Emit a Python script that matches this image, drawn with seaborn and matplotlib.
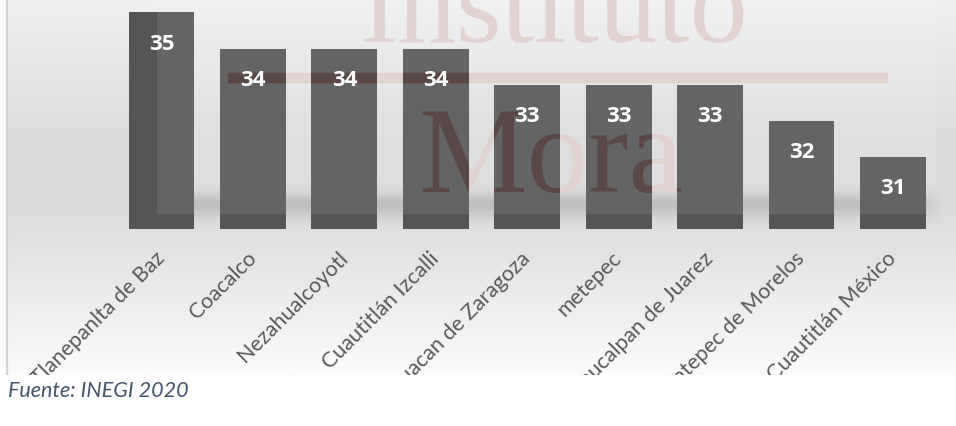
"""
Edad mediana por municipio (Estado de México) - bar chart with watermark.
"""

import numpy as np
import pandas as pd
import matplotlib
matplotlib.use("Agg")
import matplotlib.pyplot as plt
from matplotlib.patches import Rectangle
from matplotlib.lines import Line2D
from matplotlib.colors import LinearSegmentedColormap
import seaborn as sns

# data
municipios = ["Tlanepanlta de Baz", "Coacalco", "Nezahualcoyotl", "Cuautitlán Izcalli",
              "Chimalhuacan de Zaragoza", "metepec", "Naucalpan de Juarez",
              "Ecatepec de Morelos", "Cuautitlán México"]
valores = [35, 34, 34, 34, 33, 33, 33, 32, 31]
fuente = "Fuente: INEGI 2020"

W, H = 956, 426

sns.set_theme(style="white")
plt.rcParams["font.family"] = ["Lato", "DejaVu Sans"]


def px(x, y):
    """figure pixels (top-left origin) -> figure fraction"""
    return x / W, 1 - y / H


fig = plt.figure(figsize=(W / 100, H / 100), dpi=100)
fig.patch.set_facecolor("white")

# background panel with vertical gradient + soft floor shadow
bg = fig.add_axes([7 / W, 51 / H, (W - 7) / W, 375 / H], zorder=0)
bg.set_xlim(7, W)
bg.set_ylim(375, 0)
bg.axis("off")
grad = LinearSegmentedColormap.from_list(
    "bg", [(0, "#f0f0f0"), (0.38, "#dcdcdc"), (0.52, "#dcdcdc"),
           (0.63, "#e0e0e0"), (1, "#fbfbfb")])
bg.imshow(np.linspace(0, 1, 200)[:, None], cmap=grad, aspect="auto",
          extent=(7, W, 375, 0), zorder=0)
yy = np.linspace(178, 232, 60)
xx = np.linspace(150, 945, 300)
a_y = np.exp(-((yy - 205) / 12) ** 2)
a_x = np.clip((xx - 150) / 25, 0, 1) * np.clip((945 - xx) / 25, 0, 1)
shadow = np.zeros((len(yy), len(xx), 4))
shadow[..., :3] = 0.4
shadow[..., 3] = 0.3 * a_y[:, None] * a_x[None, :]
bg.imshow(shadow, aspect="auto", extent=(150, 945, 232, 178), zorder=1)

fig.add_artist(Line2D([7 / W, 7 / W], [51 / H, 1], color="#d4d4d4", lw=1.6, zorder=2))

# main axes
ax = fig.add_axes([0, (H - 229) / H, 1, 229 / H], zorder=1)
ax.set_facecolor("none")
df = pd.DataFrame({"municipio": municipios, "valor": valores})
sns.barplot(data=df, x="municipio", y="valor", color="#555555", saturation=1,
            width=0.72, linewidth=0, edgecolor="none", ax=ax, zorder=1)
step = 91.44
ax.set_xlim(-161.5 / step, (W - 161.5) / step)
ax.set_ylim(29, 29 + 229 / 36.1)
sns.despine(ax=ax, left=True, bottom=True)
ax.set_xlabel("")
ax.set_ylabel("")
ax.set_yticks([])
ax.set_xticks(range(len(municipios)))
ax.set_xticklabels(municipios, rotation=45, ha="right", va="center",
                   rotation_mode="anchor", fontsize=15.5, color="#595959")
ax.tick_params(axis="x", length=0, pad=19)

# light veil of the watermark picture
x0, y0 = px(157, 214)
x1, y1 = px(935, 0)
ax.add_patch(Rectangle((x0, y0), x1 - x0, y1 - y0, transform=fig.transFigure,
                       facecolor="white", alpha=0.09, lw=0, zorder=2))

# watermark: faint over background, dark where it crosses bars
bars = list(ax.patches)[:len(valores)]


def watermark(color, zorder, clip=None):
    arts = []
    arts.append(ax.text(*px(360, 42), "Instituto", transform=fig.transFigure,
                        family="Liberation Serif", fontsize=84, color=color,
                        va="baseline", ha="left", zorder=zorder))
    arts.append(ax.text(*px(418, 192), "Mora", transform=fig.transFigure,
                        family="Liberation Serif", fontsize=88, color=color,
                        va="baseline", ha="left", zorder=zorder))
    lx0, ly = px(228, 78)
    lx1, _ = px(888, 78)
    arts.append(ax.add_line(Line2D([lx0, lx1], [ly, ly], transform=fig.transFigure,
                                   color=color, lw=7.5, solid_capstyle="butt",
                                   zorder=zorder)))
    for a in arts:
        a.set_clip_on(True)
        if clip is not None:
            a.set_clip_path(clip)


watermark("#e0cfcf", 0.5)
for b in bars:
    watermark("#5a4747", 3, clip=b)

# value labels
for i, v in enumerate(valores):
    ax.text(i, v - 0.88, str(v), ha="center", va="center", fontsize=16,
            family=["Open Sans", "DejaVu Sans"], fontweight="bold",
            color="white", zorder=5)

# crop the category labels like the original picture
fig.add_artist(Rectangle((0, 0), 1, 51 / H, transform=fig.transFigure,
                         facecolor="white", lw=0, zorder=10))
fig.text(*px(8, 397), fuente, fontsize=15.5, style="italic", color="#44546a",
         va="baseline", ha="left", zorder=11)

fig.savefig("out.png", dpi=100)
